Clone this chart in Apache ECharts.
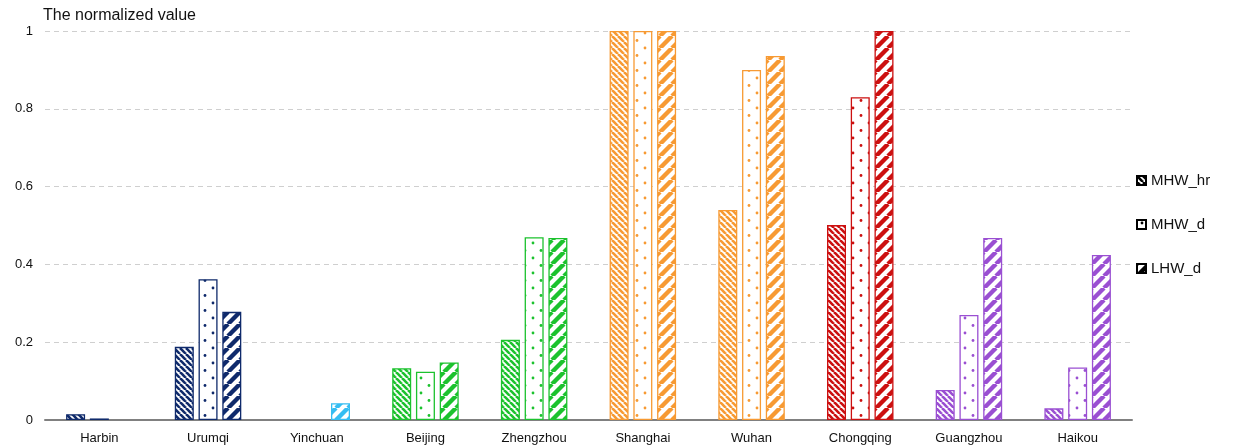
<!DOCTYPE html>
<html>
<head>
<meta charset="utf-8">
<script src="https://cdn.jsdelivr.net/npm/echarts@6/dist/echarts.min.js"></script>
<style>
  html, body { margin: 0; padding: 0; background: #fff; }
  #chart { width: 1247px; height: 448px; }
</style>
</head>
<body>
<div id="chart"></div>
<script>
// Normalized heatwave indicators per city
const cities = ['Harbin', 'Urumqi', 'Yinchuan', 'Beijing', 'Zhengzhou', 'Shanghai', 'Wuhan', 'Chongqing', 'Guangzhou', 'Haikou'];
const cityColors = ['#0f2a6b', '#0f2a6b', '#35bdf2', '#1cc22e', '#1cc22e', '#f79a33', '#f79a33', '#cc1010', '#9a4fd2', '#9a4fd2'];
const seriesNames = ['MHW_hr', 'MHW_d', 'LHW_d'];
const mhwHr = [0.015, 0.188, 0, 0.133, 0.206, 1, 0.540, 0.501, 0.077, 0.030];
const mhwD  = [0.004, 0.362, 0, 0.124, 0.470, 1, 0.900, 0.830, 0.270, 0.135];
const lhwD  = [0, 0.278, 0.043, 0.148, 0.468, 1, 0.936, 1, 0.468, 0.424];
const yTicks = [0, 0.2, 0.4, 0.6, 0.8, 1];

// Pattern fills: thin back-slash stripes, sparse dots, thick forward-slash stripes
function stripeBack(color) {
  const p = 6, c = document.createElement('canvas');
  c.width = p; c.height = p;
  const g = c.getContext('2d');
  g.fillStyle = '#fff'; g.fillRect(0, 0, p, p);
  g.strokeStyle = color; g.lineWidth = 2.6;
  for (let k = -1; k <= 1; k++) {
    g.beginPath(); g.moveTo(k * p, 0); g.lineTo(k * p + p, p); g.stroke();
  }
  return c;
}
function stripeFwd(color) {
  const p = 12, c = document.createElement('canvas');
  c.width = p; c.height = p;
  const g = c.getContext('2d');
  g.fillStyle = '#fff'; g.fillRect(0, 0, p, p);
  g.strokeStyle = color; g.lineWidth = 4.4;
  for (let k = -1; k <= 1; k++) {
    g.beginPath(); g.moveTo(k * p, p); g.lineTo(k * p + p, 0); g.stroke();
  }
  return c;
}
function dots(color) {
  const w = 16, h = 15, c = document.createElement('canvas');
  c.width = w; c.height = h;
  const g = c.getContext('2d');
  g.fillStyle = '#fff'; g.fillRect(0, 0, w, h);
  g.fillStyle = color;
  g.beginPath(); g.arc(5, 3, 1.4, 0, Math.PI * 2); g.fill();
  g.beginPath(); g.arc(13, 10.5, 1.4, 0, Math.PI * 2); g.fill();
  return c;
}
const makers = [stripeBack, dots, stripeFwd];
const values = [mhwHr, mhwD, lhwD];

function legendIcon(i) {
  return { image: makers[i]('#000'), repeat: 'repeat' };
}

const series = seriesNames.map((name, i) => ({
  name: name,
  type: 'bar',
  barWidth: 19,
  barGap: '25%',
  itemStyle: { color: legendIcon(i), borderColor: '#000', borderWidth: 1 },
  data: values[i].map((v, j) => ({
    value: v,
    itemStyle: {
      color: { image: makers[i](cityColors[j]), repeat: 'repeat' },
      borderColor: cityColors[j],
      borderWidth: v === 0 ? 0 : 1.3
    }
  }))
}));

const chart = echarts.init(document.getElementById('chart'), null, { renderer: 'canvas' });
chart.setOption({
  animation: false,
  textStyle: { fontFamily: 'Arial, "Liberation Sans", sans-serif' },
  title: {
    text: 'The normalized value',
    left: 38, top: 3,
    textStyle: { fontSize: 16, fontWeight: 'normal', color: '#111', fontFamily: 'Arial, "Liberation Sans", sans-serif' }
  },
  grid: { left: 45, right: 115, top: 31, bottom: 28, containLabel: false },
  legend: {
    orient: 'vertical',
    left: 1131, top: 168,
    itemWidth: 9, itemHeight: 9,
    itemGap: 29,
    icon: 'rect',
    textStyle: { fontSize: 15, color: '#111' },
    data: seriesNames
  },
  xAxis: {
    type: 'category',
    data: cities,
    axisLine: { lineStyle: { color: '#808080', width: 2 } },
    axisTick: { show: false },
    axisLabel: { fontSize: 13, color: '#111', margin: 12 }
  },
  yAxis: {
    type: 'value',
    min: 0, max: 1, interval: 0.2,
    axisLine: { show: false },
    axisTick: { show: false },
    axisLabel: {
      fontSize: 13, color: '#111', margin: 12,
      formatter: v => {
        const t = yTicks.find(x => Math.abs(x - v) < 1e-9);
        return t === undefined ? '' : String(t);
      }
    },
    splitLine: { lineStyle: { color: '#cfcfcf', type: [5, 4], width: 1 } }
  },
  series: series
});
</script>
</body>
</html>
